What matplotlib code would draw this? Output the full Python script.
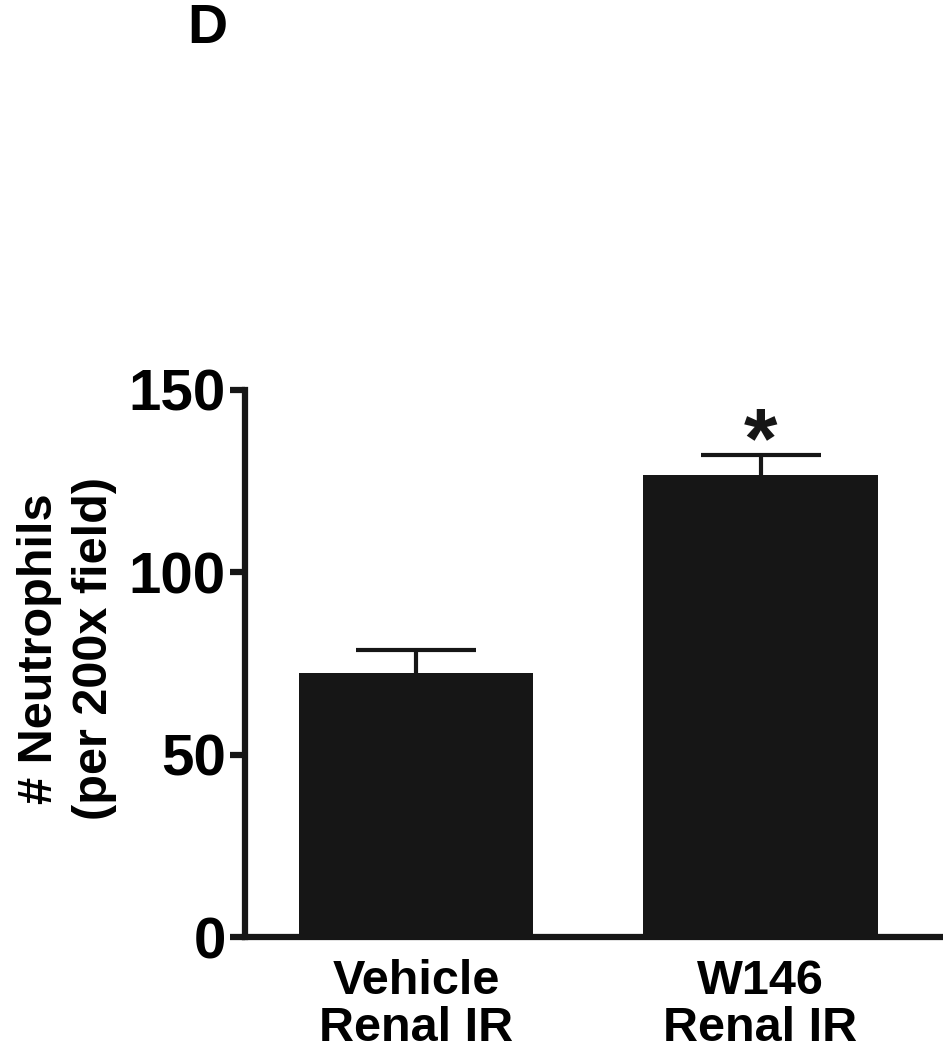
import matplotlib
matplotlib.use('Agg')
import matplotlib.pyplot as plt

# Dados
grupos = ['Vehicle\nRenal IR', 'W146\nRenal IR']
medias = [72.4, 126.8]
erros = [6.3, 5.4]
ticks_y = [0, 50, 100, 150]

plt.rcParams['font.family'] = ['Liberation Sans', 'DejaVu Sans']
plt.rcParams['font.weight'] = 'bold'

fig = plt.figure(figsize=(9.43, 10.5), dpi=100)
ax = fig.add_axes([0.26, 0.1076, 0.74, 0.521])

pos = list(range(len(grupos)))
# barra de erro simetrica atras da barra: so a parte de cima aparece
ax.errorbar(pos, medias, yerr=erros, fmt='none', ecolor='#161616',
            elinewidth=3, capsize=43, capthick=3, zorder=1)
ax.bar(pos, medias, width=0.68, color='#161616', zorder=2)

# asterisco de significancia
ax.text(1, medias[1] + erros[1] - 8.2, '*', ha='center', va='bottom',
        fontsize=62, fontweight='bold', color='#161616')

ax.set_xlim(-0.497, 1.53)
ax.set_ylim(0, 150)
ax.set_yticks(ticks_y)
ax.set_xticks(pos)
ax.set_xticklabels(grupos, fontsize=35, fontweight='bold', linespacing=1.05)
ax.tick_params(axis='y', labelsize=42, length=11, width=4.5, pad=3, color='#161616')
ax.tick_params(axis='x', length=0, pad=16)
for lab in ax.get_yticklabels():
    lab.set_fontweight('bold')

ax.spines['top'].set_visible(False)
ax.spines['right'].set_visible(False)
ax.spines['left'].set_linewidth(4.5)
ax.spines['bottom'].set_linewidth(4.5)
ax.spines['left'].set_color('#161616')
ax.spines['bottom'].set_color('#161616')

ax.set_ylabel('# Neutrophils\n(per 200x field)', fontsize=35, fontweight='bold',
              linespacing=1.3)
ax.yaxis.set_label_coords(-0.183, 0.527)

fig.text(187 / 943, 1 - 3 / 1050, 'D', fontsize=40, fontweight='bold',
         ha='left', va='top')

fig.savefig('out.png', dpi=100)
